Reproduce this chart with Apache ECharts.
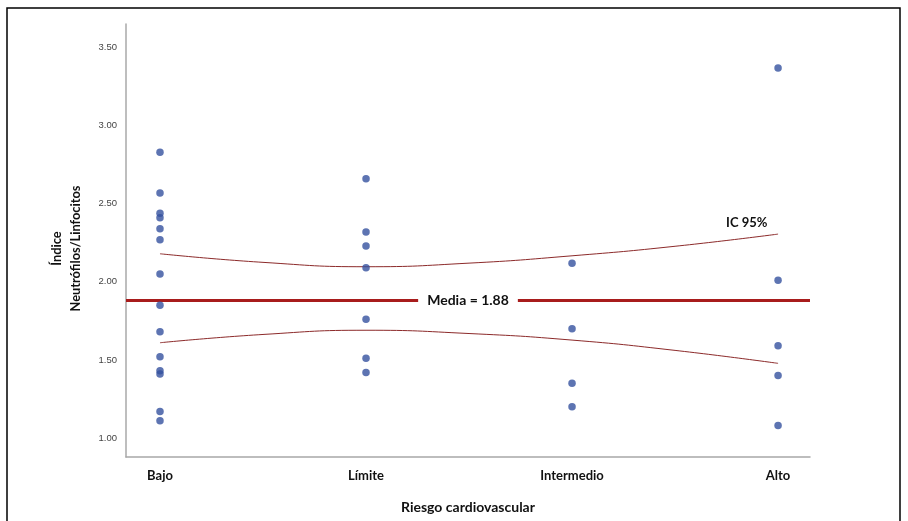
<!DOCTYPE html>
<html>
<head>
<meta charset="utf-8">
<script src="https://cdn.jsdelivr.net/npm/echarts@6/dist/echarts.min.js"></script>
<style>html,body{margin:0;padding:0;background:#fff}#c{width:908px;height:521px}</style>
</head>
<body>
<div id="c"></div>
<script>
const categories = ['Bajo', 'Límite', 'Intermedio', 'Alto'];
const bajoValues = [2.83, 2.57, 2.44, 2.41, 2.34, 2.27, 2.05, 1.85, 1.68, 1.52, 1.43, 1.41, 1.17, 1.11];
const limiteValues = [2.66, 2.32, 2.23, 2.09, 1.76, 1.51, 1.42];
const intermedioValues = [2.12, 1.70, 1.35, 1.20];
const altoValues = [3.37, 2.01, 1.59, 1.40, 1.08];
const meanValue = 1.88;
const ciX = [0, 0.5, 1, 1.5, 2, 2.5, 3];
const ciUpper = [2.18, 2.125, 2.097, 2.12, 2.167, 2.228, 2.306];
const ciLower = [1.61, 1.663, 1.69, 1.669, 1.627, 1.561, 1.478];
const yTicks = [1.0, 1.5, 2.0, 2.5, 3.0, 3.5];

const groups = [bajoValues, limiteValues, intermedioValues, altoValues];
const points = [];
groups.forEach((g, i) => g.forEach(v => points.push([i, v])));

const boldFont = 'Lato';
const chart = echarts.init(document.getElementById('c'), null, {renderer: 'canvas'});
chart.setOption({
  animation: false,
  backgroundColor: '#fff',
  grid: {left: 126, right: 98, top: 24, bottom: 64},
  xAxis: {
    type: 'value', min: -0.165, max: 3.155,
    axisLine: {show: true, onZero: false, lineStyle: {color: '#a8a8a8', width: 1.5}},
    axisTick: {show: false},
    splitLine: {show: false},
    axisLabel: {
      customValues: [0, 1, 2, 3],
      formatter: v => categories[Math.round(v)],
      margin: 12, color: '#111', fontFamily: boldFont, fontWeight: 'bold', fontSize: 13
    },
    name: 'Riesgo cardiovascular', nameLocation: 'middle', nameGap: 43,
    nameTextStyle: {color: '#111', fontFamily: boldFont, fontWeight: 'bold', fontSize: 14}
  },
  yAxis: {
    type: 'value', min: 0.878, max: 3.652,
    axisLine: {show: true, onZero: false, lineStyle: {color: '#a8a8a8', width: 1.5}},
    axisTick: {show: false},
    splitLine: {show: false},
    axisLabel: {
      customValues: yTicks,
      formatter: v => v.toFixed(2),
      margin: 9, color: '#444', fontFamily: 'Liberation Sans', fontSize: 9.5
    },
    name: 'Índice\nNeutrófilos/Linfocitos', nameLocation: 'middle', nameGap: 41, nameRotate: 90,
    nameTextStyle: {color: '#111', fontFamily: boldFont, fontWeight: 'bold', fontSize: 12.8, lineHeight: 19, align: 'center', padding: [0, 16, 0, 0]}
  },
  series: [
    {
      type: 'line', data: ciX.map((x, i) => [x, ciUpper[i]]), smooth: true, showSymbol: false,
      lineStyle: {color: '#8c2a2a', width: 1}, z: 2,
      endLabel: {show: true, formatter: 'IC 95%', color: '#111', fontFamily: boldFont, fontWeight: 'bold', fontSize: 13, offset: [-52, -11], distance: 0}
    },
    {
      type: 'line', data: ciX.map((x, i) => [x, ciLower[i]]), smooth: true, showSymbol: false,
      lineStyle: {color: '#8c2a2a', width: 1}, z: 2
    },
    {
      type: 'scatter', data: points, symbolSize: 7.5,
      itemStyle: {color: '#34519f'}, z: 3,
      markLine: {
        silent: true, symbol: 'none', z: 1,
        lineStyle: {color: '#a81c1c', width: 3, type: 'solid'},
        label: {
          show: true, position: 'middle', formatter: 'Media = ' + meanValue.toFixed(2),
          color: '#111', fontFamily: boldFont, fontWeight: 'bold', fontSize: 14,
          backgroundColor: '#fff', padding: [3, 9], distance: 0, verticalAlign: 'middle'
        },
        data: [{yAxis: meanValue}]
      }
    }
  ],
  graphic: [{
    type: 'rect', shape: {x: 7, y: 8, width: 893, height: 525},
    style: {fill: 'none', stroke: '#000', lineWidth: 1.5}, silent: true, z: 100
  }]
});
</script>
</body>
</html>
